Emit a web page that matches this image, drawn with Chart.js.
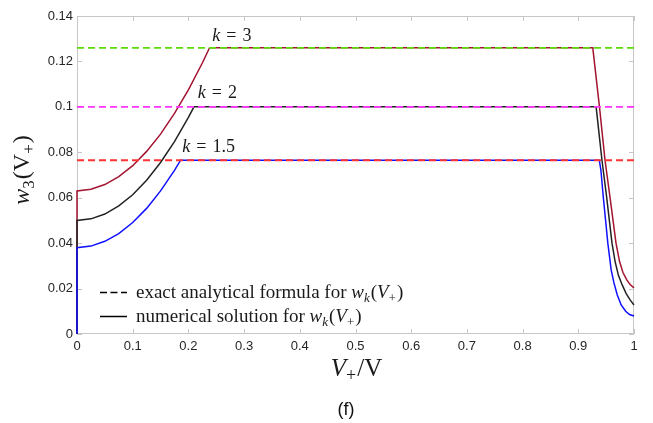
<!DOCTYPE html>
<html>
<head>
<meta charset="utf-8">
<script src="https://cdn.jsdelivr.net/npm/chart.js@4.4.0/dist/chart.umd.min.js"></script>
<style>
  html, body { margin: 0; padding: 0; background: #ffffff; }
  #wrap { width: 653px; height: 423px; position: relative; }
</style>
</head>
<body>
<div id="wrap"><canvas id="c" width="653" height="423"></canvas></div>
<script>
// Axis ticks
const xTickValues = [0, 0.1, 0.2, 0.3, 0.4, 0.5, 0.6, 0.7, 0.8, 0.9, 1];
const xTickLabels = ['0', '0.1', '0.2', '0.3', '0.4', '0.5', '0.6', '0.7', '0.8', '0.9', '1'];
const yTickValues = [0, 0.02, 0.04, 0.06, 0.08, 0.1, 0.12, 0.14];
const yTickLabels = ['0', '0.02', '0.04', '0.06', '0.08', '0.1', '0.12', '0.14'];

// Shape parameter k of each curve
const kLabels = ['3', '2', '1.5'];

// Exact analytical plateau value w_k for each k
const exactW = [0.126, 0.1, 0.0765];

// Numerical solution, k = 3
const numK3X = [0, 0, 0.025, 0.05, 0.075, 0.1, 0.125, 0.15, 0.175, 0.2, 0.225, 0.238,
                0.926, 0.938, 0.948, 0.957, 0.9677, 0.974, 0.98, 0.987, 0.993, 1.0];
const numK3Y = [0, 0.063, 0.0637, 0.0658, 0.0693, 0.0741, 0.0804, 0.0880, 0.0971, 0.1075, 0.1193, 0.126,
                0.126, 0.100, 0.0765, 0.060, 0.040, 0.032, 0.0272, 0.0238, 0.0218, 0.0203];

// Numerical solution, k = 2
const numK2X = [0, 0, 0.025, 0.05, 0.075, 0.1, 0.125, 0.15, 0.175, 0.2, 0.21,
                0.932, 0.9425, 0.951, 0.9605, 0.966, 0.972, 0.979, 0.986, 0.993, 1.0];
const numK2Y = [0, 0.05, 0.0507, 0.0528, 0.0564, 0.0613, 0.0677, 0.0755, 0.0847, 0.0954, 0.1,
                0.1, 0.0765, 0.060, 0.040, 0.032, 0.0258, 0.0215, 0.0178, 0.0150, 0.0128];

// Numerical solution, k = 1.5
const numK15X = [0, 0, 0.025, 0.05, 0.075, 0.1, 0.125, 0.15, 0.175, 0.186,
                 0.9377, 0.9405, 0.945, 0.953, 0.959, 0.964, 0.970, 0.977, 0.985, 0.992, 1.0];
const numK15Y = [0, 0.038, 0.0387, 0.0408, 0.0442, 0.0491, 0.0553, 0.0630, 0.0720, 0.0765,
                 0.0765, 0.0723, 0.060, 0.040, 0.0282, 0.0225, 0.0172, 0.0128, 0.0100, 0.0086, 0.0079];

const SERIF = '"Liberation Serif", "DejaVu Serif", serif';
const SANS = '"Liberation Sans", Arial, sans-serif';
const AXIS_GREY = '#c6c6c6';

function zip(xs, ys) { return xs.map((x, i) => ({ x: x, y: ys[i] })); }
function flat(v) { return [{ x: 0, y: v }, { x: 1, y: v }]; }

// Rich text: segments of [text, style], style: 'r' roman, 'i' italic, 'sr'/'si' subscripts
function segFont(style, size) {
  const sub = style[0] === 's';
  const it = style[style.length - 1] === 'i';
  const s = sub ? Math.round(size * 0.7) : size;
  return (it ? 'italic ' : '') + s + 'px ' + SERIF;
}
function richWidth(ctx, segs, size) {
  let w = 0;
  for (const [t, st] of segs) { ctx.font = segFont(st, size); w += ctx.measureText(t).width; }
  return w;
}
function drawRich(ctx, segs, x, y, size, align) {
  let cx = x;
  if (align === 'center') cx = x - richWidth(ctx, segs, size) / 2;
  ctx.textAlign = 'left';
  ctx.textBaseline = 'alphabetic';
  for (const [t, st] of segs) {
    ctx.font = segFont(st, size);
    const dy = st[0] === 's' ? size * 0.22 : 0;
    ctx.fillText(t, cx, y + dy);
    cx += ctx.measureText(t).width + (st[0] === 's' ? 1 : 0);
  }
}

const wkSegs = [['w', 'i'], ['k', 'si'], ['(', 'r'], ['V', 'i'], ['+', 'sr'], [')', 'r']];

const decorations = {
  id: 'decorations',
  beforeDatasetsDraw(chart) {
    const { ctx, chartArea: a, scales: { x, y } } = chart;
    ctx.save();
    ctx.strokeStyle = AXIS_GREY;
    ctx.lineWidth = 1;
    ctx.strokeRect(Math.round(a.left) + 0.5, Math.round(a.top) + 0.5,
                   Math.round(a.right - a.left) - 1, Math.round(a.bottom - a.top) - 1);
    ctx.beginPath();
    const tl = 5;
    xTickValues.forEach(v => {
      const px = Math.round(x.getPixelForValue(v)) + 0.5;
      ctx.moveTo(px, a.bottom); ctx.lineTo(px, a.bottom - tl);
      ctx.moveTo(px, a.top); ctx.lineTo(px, a.top + tl);
    });
    yTickValues.forEach(v => {
      const py = Math.round(y.getPixelForValue(v)) + 0.5;
      ctx.moveTo(a.left, py); ctx.lineTo(a.left + tl, py);
      ctx.moveTo(a.right, py); ctx.lineTo(a.right - tl, py);
    });
    ctx.stroke();
    ctx.restore();
  },
  afterDraw(chart) {
    const { ctx, scales: { x, y } } = chart;
    const o = chart.options.plugins.decorations;
    ctx.save();
    ctx.fillStyle = '#1a1a1a';

    // k labels placed beside each plateau
    kLabels.forEach((k, i) => {
      let px = x.getPixelForValue(o.kAnchorX[i]);
      const py = y.getPixelForValue(o.kAnchorY[i]);
      ctx.textAlign = 'left'; ctx.textBaseline = 'alphabetic';
      ctx.font = 'italic 18px ' + SERIF;
      ctx.fillText('k', px, py);
      px += ctx.measureText('k').width + 6;
      ctx.font = '18px ' + SERIF;
      ctx.fillText('=', px, py);
      px += ctx.measureText('=').width + 6;
      ctx.fillText(k, px, py);
    });

    // legend
    ctx.strokeStyle = '#000';
    ctx.lineWidth = 1.5;
    ctx.setLineDash([7, 3.5]);
    ctx.beginPath(); ctx.moveTo(100, 292.5); ctx.lineTo(127, 292.5); ctx.stroke();
    ctx.setLineDash([]);
    ctx.beginPath(); ctx.moveTo(100, 316.5); ctx.lineTo(127, 316.5); ctx.stroke();
    drawRich(ctx, [['exact analytical formula for ', 'r']].concat(wkSegs), 136, 297.5, 19, 'left');
    drawRich(ctx, [['numerical solution for ', 'r']].concat(wkSegs), 136, 322, 19, 'left');

    // axis titles
    drawRich(ctx, [['V', 'i'], ['+', 'sr'], ['/V', 'r']], 356, 375.5, 25, 'center');
    ctx.save();
    ctx.translate(29, 171);
    ctx.rotate(-Math.PI / 2);
    drawRich(ctx, [['w', 'i'], ['3', 'sr'], ['(V', 'r'], ['+', 'sr'], [')', 'r']], 0, 0, 24, 'center');
    ctx.restore();

    // panel tag
    ctx.font = '18px ' + SANS;
    ctx.textAlign = 'center';
    ctx.textBaseline = 'alphabetic';
    ctx.fillStyle = '#111';
    ctx.fillText('(f)', 346, 414.5);
    ctx.restore();
  }
};

// Datasets listed bottom-up; dashed exact values come last so they sit on the curves
const solid = (data, color, order) => ({
  data, borderColor: color, borderWidth: 1.5, pointRadius: 0, tension: 0, fill: false, order, clip: 1
});
const dashed = (v, color) => ({
  data: flat(v), borderColor: color, borderWidth: 1.8, borderDash: [7, 4],
  pointRadius: 0, tension: 0, fill: false, order: -1, clip: 1
});

new Chart(document.getElementById('c'), {
  type: 'line',
  data: {
    datasets: [
      solid(zip(numK15X, numK15Y), '#1010ff', 0),
      solid(zip(numK2X, numK2Y), '#222222', 1),
      solid(zip(numK3X, numK3Y), '#a2142f', 2),
      dashed(exactW[0], '#5cdc0a'),
      dashed(exactW[1], '#ff33ff'),
      dashed(exactW[2], '#ff3333')
    ]
  },
  options: {
    responsive: false,
    animation: false,
    events: [],
    layout: { padding: { left: 0, top: 16, right: 19, bottom: 0 } },
    plugins: {
      legend: { display: false },
      tooltip: { enabled: false },
      decorations: {
        kAnchorX: [0.243, 0.217, 0.189],
        kAnchorY: [0.1292, 0.1041, 0.0800]
      }
    },
    scales: {
      x: {
        type: 'linear', min: 0, max: 1,
        grid: { display: false, drawTicks: false },
        border: { display: false },
        afterFit(s) { s.height = 89; },
        afterBuildTicks(s) { s.ticks = xTickValues.map(v => ({ value: v })); },
        ticks: {
          padding: 5, color: '#262626', font: { family: SANS, size: 13 },
          maxRotation: 0, autoSkip: false,
          callback: (v, i) => xTickLabels[i]
        }
      },
      y: {
        type: 'linear', min: 0, max: 0.14,
        grid: { display: false, drawTicks: false },
        border: { display: false },
        afterFit(s) { s.width = 77; },
        afterBuildTicks(s) { s.ticks = yTickValues.map(v => ({ value: v })); },
        ticks: {
          padding: 4, color: '#262626', font: { family: SANS, size: 13 },
          autoSkip: false,
          callback: (v, i) => yTickLabels[i]
        }
      }
    }
  },
  plugins: [decorations]
});
</script>
</body>
</html>
